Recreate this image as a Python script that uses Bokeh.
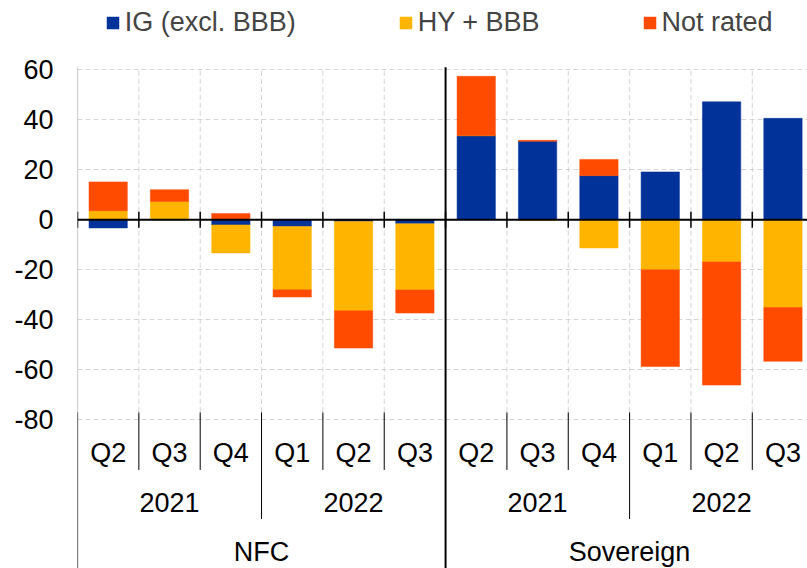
from bokeh.plotting import figure
from bokeh.models import Range1d, FixedTicker, ColumnDataSource, Legend, LegendItem
from bokeh.core.properties import value
from bokeh.embed import file_html
from bokeh.resources import INLINE

# ---------------- data ----------------
sectors = ["NFC", "Sovereign"]
quarters = ["Q2", "Q3", "Q4", "Q1", "Q2", "Q3"]
quarter_years = ["2021", "2021", "2021", "2022", "2022", "2022"]
series_names = ["IG (excl. BBB)", "HY + BBB", "Not rated"]
# NFC Q2-21..Q3-22, then Sovereign Q2-21..Q3-22
ig_excl_bbb = [-3.3, 0.0, -2.1, -2.7, -0.7, -1.6, 33.6, 31.3, 17.6, 19.1, 47.1, 40.5]
hy_bbb = [3.6, 7.3, -11.2, -25.3, -35.7, -26.5, 0.0, -0.3, -11.3, -20.0, -16.9, -35.1]
not_rated = [11.5, 4.7, 2.5, -2.9, -14.9, -9.2, 23.7, 0.4, 6.5, -38.7, -49.2, -21.5]
y_ticks = [-80, -60, -40, -20, 0, 20, 40, 60]
colors = ["#003299", "#FFB400", "#FF4B00"]

FONT = "Liberation Sans"
FS = "27px"

# categories
cat_sector, cat_year, cat_quarter = [], [], []
for s in sectors:
    for q, y in zip(quarters, quarter_years):
        cat_sector.append(s)
        cat_year.append(y)
        cat_quarter.append(q)
n = len(cat_sector)
xc = [i + 0.5 for i in range(n)]

y_min, y_max = y_ticks[0], y_ticks[-1]
y_lo, y_hi = -139.4, 87.6      # frame also holds legend (top) and category labels (bottom)
y_top = 60.9                   # top of the value area
x_end = 11.9

p = figure(width=807, height=568, output_backend="svg", toolbar_location=None,
           x_range=Range1d(0, x_end), y_range=Range1d(y_lo, y_hi),
           x_axis_location=None, min_border_left=77, min_border_top=0,
           min_border_right=0, min_border_bottom=0)
p.outline_line_color = None
p.background_fill_color = "white"
p.border_fill_color = "white"

# y axis
p.yaxis.ticker = FixedTicker(ticks=y_ticks)
p.yaxis.major_label_overrides = {t: str(t) for t in y_ticks}
p.yaxis.major_tick_out = 0
p.yaxis.major_tick_in = 0
p.yaxis.minor_tick_out = 0
p.yaxis.minor_tick_in = 0
p.yaxis.major_label_standoff = 24
p.yaxis.major_label_text_font = FONT
p.yaxis.major_label_text_font_size = FS
p.yaxis.major_label_text_color = "black"
p.yaxis.axis_line_color = None

p.xgrid.visible = False
p.ygrid.grid_line_color = "#D4D4D4"
p.ygrid.grid_line_dash = "5 3"
p.ygrid.grid_line_width = 1

# left axis line: grey in value area, black in label area
p.segment(x0=[0], x1=[0], y0=[-77.0], y1=[y_top], line_color="#A6A6A6", line_width=1.2)
p.segment(x0=[0], x1=[0], y0=[y_lo], y1=[-77.0], line_color="black", line_width=1.2)

# vertical dashed grid at category boundaries (within value range)
bounds = list(range(1, n))
per_sector = len(quarters)
grid_x = [b for b in bounds if b % per_sector != 0]
p.segment(x0=grid_x, x1=grid_x, y0=[y_min] * len(grid_x), y1=[y_max] * len(grid_x),
          line_color="#D4D4D4", line_dash="5 3", line_width=1)

# stacked bars (positives and negatives stacked separately)
pos_base = [0.0] * n
neg_base = [0.0] * n
renderers = []
for vals, col in zip([ig_excl_bbb, hy_bbb, not_rated], colors):
    bottoms, tops = [], []
    for i, v in enumerate(vals):
        if v >= 0:
            b = pos_base[i]
            t = b + v
            pos_base[i] = t
        else:
            b = neg_base[i]
            t = b + v
            neg_base[i] = t
        bottoms.append(b)
        tops.append(t)
    src = ColumnDataSource(dict(x=xc, bottom=bottoms, top=tops))
    r = p.vbar(x="x", bottom="bottom", top="top", width=0.625, source=src,
               fill_color=col, line_color=col, line_width=0.5)
    renderers.append(r)

# zero line with tick marks
p.segment(x0=[0], x1=[x_end], y0=[0], y1=[0], line_color="black", line_width=2)
tick_x = list(range(0, n))
p.segment(x0=tick_x, x1=tick_x, y0=[-3.2] * len(tick_x), y1=[3.2] * len(tick_x),
          line_color="black", line_width=1.5)

# separators in the category-label area
q_sep, y_sep, s_sep = [], [], []
for b in bounds:
    if b % per_sector == 0:
        s_sep.append(b)
    elif cat_year[b] != cat_year[b - 1]:
        y_sep.append(b)
    else:
        q_sep.append(b)
p.segment(x0=q_sep, x1=q_sep, y0=[-77.0] * len(q_sep), y1=[-100.0] * len(q_sep),
          line_color="black", line_width=1)
p.segment(x0=y_sep, x1=y_sep, y0=[-77.0] * len(y_sep), y1=[-119.6] * len(y_sep),
          line_color="black", line_width=1)
p.segment(x0=s_sep, x1=s_sep, y0=[y_lo] * len(s_sep), y1=[y_top] * len(s_sep),
          line_color="black", line_width=2)

# category labels
p.text(x=xc, y=[-93.4] * n, text=cat_quarter, text_align="center", text_baseline="middle",
       text_font=value(FONT), text_font_size=FS, text_color="black")
yl_x, yl_t = [], []
for s in sectors:
    for yr in sorted(set(quarter_years)):
        xs = [xc[i] for i in range(n) if cat_sector[i] == s and cat_year[i] == yr]
        yl_x.append(sum(xs) / len(xs))
        yl_t.append(yr)
p.text(x=yl_x, y=[-113.0] * len(yl_x), text=yl_t, text_align="center", text_baseline="middle",
       text_font=value(FONT), text_font_size=FS, text_color="black")
sl_x = []
for s in sectors:
    xs = [xc[i] for i in range(n) if cat_sector[i] == s]
    sl_x.append(sum(xs) / len(xs))
p.text(x=sl_x, y=[-133.0] * len(sl_x), text=sectors, text_align="center", text_baseline="middle",
       text_font=value(FONT), text_font_size=FS, text_color="black")

# legend at top of frame
lg = Legend(items=[LegendItem(label=nm, renderers=[r]) for nm, r in zip(series_names, renderers)],
            location=(27.7, 530.5), orientation="horizontal", padding=0, margin=0, spacing=102,
            glyph_width=15, glyph_height=15, label_standoff=5,
            label_text_font=FONT, label_text_font_size=FS,
            border_line_color=None, background_fill_alpha=0)
p.add_layout(lg, "center")

open("out.html", "w").write(file_html(p, INLINE))
